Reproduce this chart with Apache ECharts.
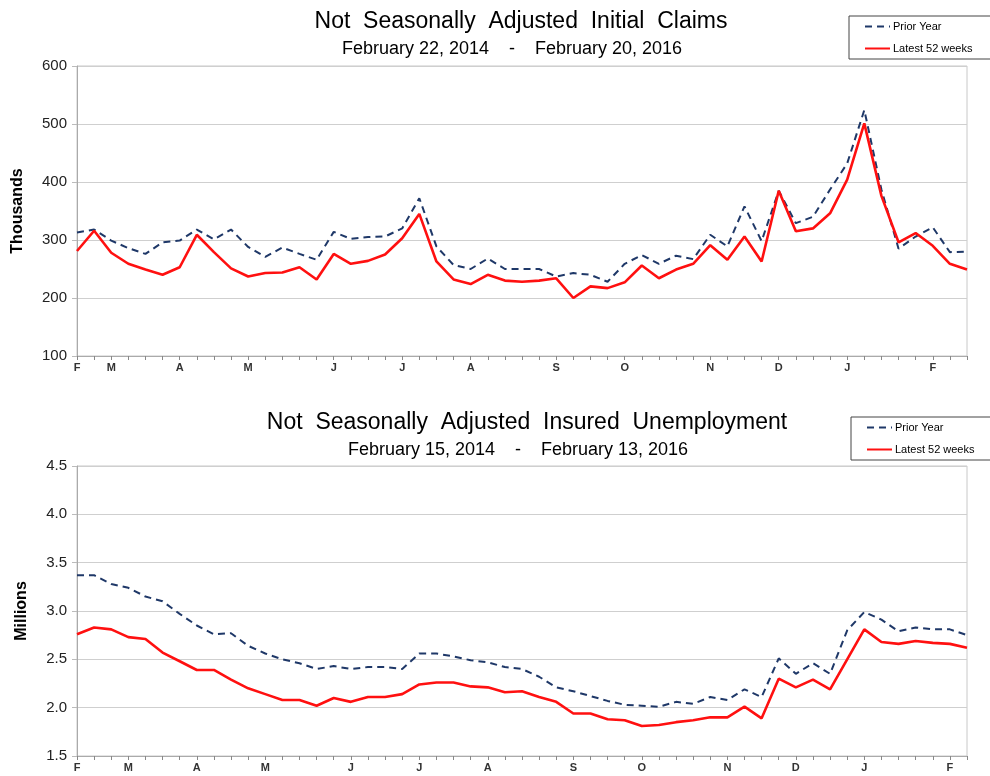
<html>
<head>
<meta charset="utf-8" />
<title>Not Seasonally Adjusted Claims</title>
<style>
  *{ margin: 0; padding: 0; }
  body{ background: #fff; width: 990px; height: 776px; overflow: hidden; }
  .box{ width: 990px; height: 388px; }
</style>
<script src="https://cdn.jsdelivr.net/npm/echarts@6/dist/echarts.min.js"></script>
</head>
<body>
<div id="claims" class="box"></div>
<div id="insured" class="box"></div>

<script>
// week ticks, month letters where a month starts
var claimsMonths = ['F','','M','','','','A','','','','M','','','','','J','','','','J','','','','A','','','','','S','','','','O','','','','','N','','','','D','','','','J','','','','','F','',''];
var claimsLatest = [281,316,278,259,249,240,253,309,279,251,237,243,244,253,232,276,259,264,275,303,345,263,232,224,240,230,228,230,234,200,220,217,227,256,234,249,259,291,266,306,263,385,315,320,346,404,501,376,296,312,290,259,249];
var claimsPrior = [313,318,299,286,276,296,299,318,301,318,288,271,287,276,266,314,302,305,306,320,372,289,257,250,268,250,250,250,237,243,240,228,259,274,259,273,267,309,289,358,298,385,329,340,387,432,524,387,285,306,322,279,280];

var insuredMonths = ['F','','','M','','','','A','','','','M','','','','','J','','','','J','','','','A','','','','','S','','','','O','','','','','N','','','','D','','','','J','','','','','F',''];
var insuredLatest = [2.76,2.83,2.81,2.73,2.71,2.57,2.48,2.39,2.39,2.29,2.20,2.14,2.08,2.08,2.02,2.10,2.06,2.11,2.11,2.14,2.24,2.26,2.26,2.22,2.21,2.16,2.17,2.11,2.06,1.94,1.94,1.88,1.87,1.81,1.82,1.85,1.87,1.90,1.90,2.01,1.89,2.30,2.21,2.29,2.19,2.50,2.81,2.68,2.66,2.69,2.67,2.66,2.62];
var insuredPrior = [3.37,3.37,3.28,3.24,3.15,3.10,2.97,2.85,2.76,2.77,2.64,2.56,2.50,2.46,2.40,2.43,2.40,2.42,2.42,2.40,2.56,2.56,2.53,2.49,2.47,2.42,2.40,2.32,2.21,2.17,2.12,2.07,2.03,2.02,2.01,2.06,2.04,2.11,2.08,2.19,2.11,2.51,2.35,2.46,2.35,2.80,2.99,2.91,2.79,2.83,2.81,2.81,2.75];

var FONT = '"Liberation Sans", Arial, sans-serif';

function makeChart(id, o){
    var chart = echarts.init(document.getElementById(id));
    var idx = [];
    for (var i = 0; i < o.months.length; i++) idx.push(i);
    chart.setOption({
        animation: false,
        backgroundColor: '#ffffff',
        textStyle: { fontFamily: FONT },
        title: [{
            text: o.title,
            left: o.titleX, top: o.titleTop, textAlign: 'center',
            textStyle: { fontSize: 23, fontWeight: 'normal', color: '#000', fontFamily: FONT }
        }, {
            text: o.sub,
            left: o.subX, top: o.titleTop + 30, textAlign: 'center',
            textStyle: { fontSize: 18, fontWeight: 'normal', color: '#000', fontFamily: FONT }
        }],
        legend: {
            orient: 'vertical',
            left: o.legendX, top: o.legendY,
            width: 150,
            padding: [5, 20, 5, 15],
            itemGap: 11,
            itemWidth: 25, itemHeight: 10,
            borderColor: '#444', borderWidth: 1,
            itemStyle: { opacity: 0 },
            textStyle: { fontSize: 11, color: '#000', fontFamily: FONT, padding: [0, 0, 0, -2] },
            data: ['Prior Year', 'Latest 52 weeks']
        },
        grid: {
            left: 77, right: 23, top: o.gridTop, height: 290,
            show: true, borderColor: '#c8c8c8', borderWidth: 1
        },
        xAxis: {
            type: 'category',
            data: idx,
            boundaryGap: false,
            axisLine: { lineStyle: { color: '#aaaaaa', width: 1 } },
            axisTick: { show: true, interval: 0, length: 4, lineStyle: { color: '#888' } },
            axisLabel: {
                interval: 0, margin: 6,
                fontSize: 11, fontWeight: 'bold', color: '#333',
                formatter: function(v){ return o.months[v]; }
            },
            splitLine: { show: false }
        },
        yAxis: {
            type: 'value',
            min: o.min, max: o.max, interval: o.step,
            name: o.yName,
            nameLocation: 'middle',
            nameGap: o.nameGap,
            nameTextStyle: { fontSize: 16, fontWeight: 'bold', color: '#000', fontFamily: FONT },
            axisLine: { show: true, lineStyle: { color: '#aaaaaa' } },
            axisTick: { show: true, length: 5, lineStyle: { color: '#bbb' } },
            axisLabel: {
                fontSize: 15, color: '#222', margin: 10,
                formatter: o.fmt
            },
            splitLine: { lineStyle: { color: '#cfcfcf', width: 1 } }
        },
        series: [{
            name: 'Prior Year',
            type: 'line',
            symbol: 'none',
            data: o.prior,
            lineStyle: { color: '#1f3868', width: 2, type: [7, 5] },
            itemStyle: { color: '#1f3868' },
            z: 2
        }, {
            name: 'Latest 52 weeks',
            type: 'line',
            symbol: 'none',
            data: o.latest,
            lineStyle: { color: '#ff1010', width: 2.6 },
            itemStyle: { color: '#ff1010' },
            z: 3
        }]
    });
}

makeChart('claims', {
    title: 'Not  Seasonally  Adjusted  Initial  Claims',
    sub: 'February 22, 2014    -    February 20, 2016',
    titleX: 516, subX: 507, titleTop: 5,
    legendX: 849, legendY: 16,
    gridTop: 66,
    months: claimsMonths,
    latest: claimsLatest, prior: claimsPrior,
    min: 100, max: 600, step: 100,
    yName: 'Thousands', nameGap: 51,
    fmt: function(v){ return v; }
});

makeChart('insured', {
    title: 'Not  Seasonally  Adjusted  Insured  Unemployment',
    sub: 'February 15, 2014    -    February 13, 2016',
    titleX: 522, subX: 513, titleTop: 18,
    legendX: 851, legendY: 29,
    gridTop: 78,
    months: insuredMonths,
    latest: insuredLatest, prior: insuredPrior,
    min: 1.5, max: 4.5, step: 0.5,
    yName: 'Millions', nameGap: 47,
    fmt: function(v){ return v.toFixed(1); }
});
</script>
</body>
</html>
